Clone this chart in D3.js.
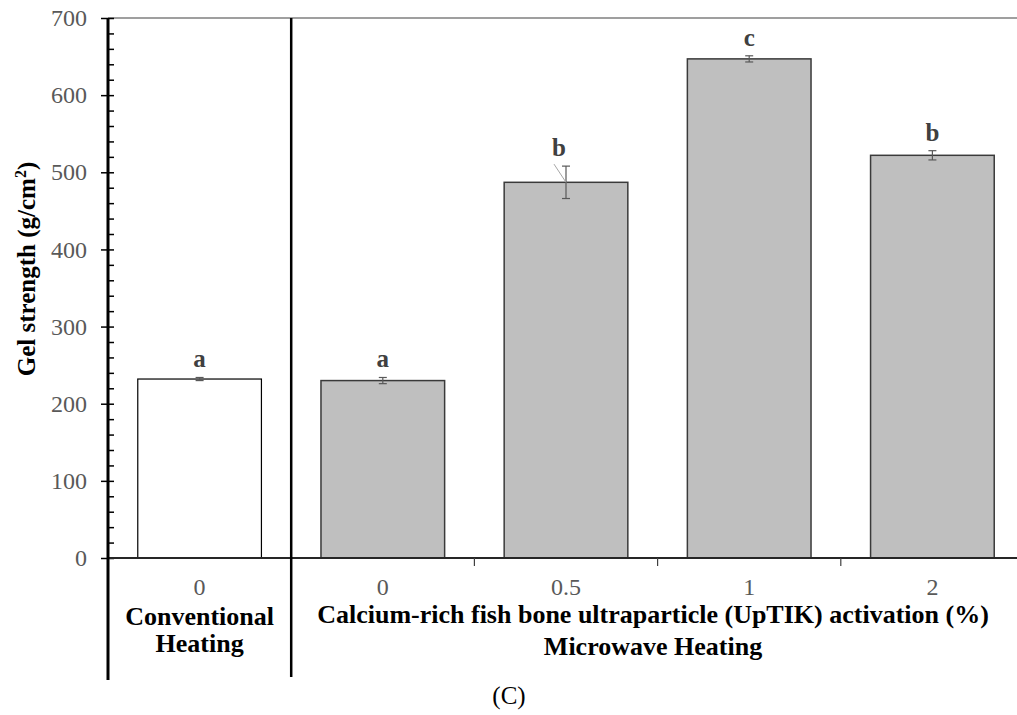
<!DOCTYPE html>
<html>
<head>
  <meta charset="utf-8">
  <title>Gel strength</title>
  <script src="https://d3js.org/d3.v7.min.js"></script>
  <style>
    body { margin: 0; background: #fff; }
    text { font-family: "Liberation Serif", "Times New Roman", serif; }
  </style>
</head>
<body>
  <svg width="1017" height="715"></svg>
  <script>
    // data
    var categories = ["Conventional 0", "Microwave 0", "Microwave 0.5", "Microwave 1", "Microwave 2"];
    var tickLabels = ["0", "0", "0.5", "1", "2"];
    var means = [232, 230, 487, 647, 522];
    var errors = [2, 4, 21, 4, 6];
    var letters = ["a", "a", "b", "c", "b"];
    var yTicks = [0, 100, 200, 300, 400, 500, 600, 700];

    var svg = d3.select("svg");
    var mLeft = 108, mRight = 1024, mTop = 18, mBottom = 558;

    var x = d3.scaleBand().domain(categories).range([mLeft, mRight]).padding(0);
    var y = d3.scaleLinear().domain([0, 700]).range([mBottom, mTop]);
    var barW = x.bandwidth() * 0.675;

    // top frame line
    svg.append("line")
      .attr("x1", mLeft).attr("x2", mRight)
      .attr("y1", y(700)).attr("y2", y(700))
      .attr("stroke", "#404040").attr("stroke-width", 1.2);

    // bars
    svg.append("g").selectAll("rect")
      .data(categories)
      .enter().append("rect")
      .attr("x", function (d) { return x(d) + (x.bandwidth() - barW) / 2; })
      .attr("y", function (d, i) { return y(means[i]); })
      .attr("width", barW)
      .attr("height", function (d, i) { return y(0) - y(means[i]); })
      .attr("fill", function (d, i) { return i == 0 ? "#ffffff" : "#bfbfbf"; })
      .attr("stroke", function (d, i) { return i == 0 ? "#000" : "#3a3a3a"; })
      .attr("stroke-width", function (d, i) { return i == 0 ? 1.2 : 1.5; });

    // error bars
    var eb = svg.append("g").attr("stroke", "#595959").attr("stroke-width", 1.2);
    categories.forEach(function (d, i) {
      var cx = x(d) + x.bandwidth() / 2;
      var y1 = y(means[i] + errors[i]), y2 = y(means[i] - errors[i]);
      eb.append("line").attr("x1", cx).attr("x2", cx).attr("y1", y1).attr("y2", y2);
      eb.append("line").attr("x1", cx - 4).attr("x2", cx + 4).attr("y1", y1).attr("y2", y1);
      eb.append("line").attr("x1", cx - 4).attr("x2", cx + 4).attr("y1", y2).attr("y2", y2);
    });

    // significance letters (0.5 one is shifted left with a leader line)
    categories.forEach(function (d, i) {
      var cx = x(d) + x.bandwidth() / 2;
      var ty = y(means[i] + errors[i]) - 10;
      var dx = 0;
      if (i == 2) {
        dx = -7;
        svg.append("line")
          .attr("x1", cx - 12).attr("y1", ty + 8)
          .attr("x2", cx).attr("y2", y(means[i]))
          .attr("stroke", "#a6a6a6").attr("stroke-width", 1);
      }
      svg.append("text")
        .attr("x", cx + dx).attr("y", ty)
        .attr("text-anchor", "middle")
        .attr("font-size", 25).attr("font-weight", "bold")
        .attr("fill", "#404040")
        .text(letters[i]);
    });

    // y axis: major ticks left, minor ticks right
    var yAxis = svg.append("g")
      .attr("transform", "translate(" + mLeft + ",0)")
      .call(d3.axisLeft(y).tickValues(yTicks).tickSize(7).tickPadding(14));
    yAxis.select(".domain").remove();
    yAxis.selectAll("line").attr("stroke", "#000").attr("stroke-width", 1.5);
    yAxis.selectAll("text")
      .attr("font-size", 24).attr("fill", "#595959")
      .style("font-family", "'Liberation Serif', serif");

    var yMinor = svg.append("g")
      .attr("transform", "translate(" + mLeft + ",0)")
      .call(d3.axisRight(y).tickValues(d3.range(0, 701, 20)).tickSize(6).tickFormat(""));
    yMinor.select(".domain").remove();
    yMinor.selectAll("line").attr("stroke", "#000").attr("stroke-width", 1.5);

    // x axis line
    svg.append("line")
      .attr("x1", mLeft).attr("x2", mRight)
      .attr("y1", y(0)).attr("y2", y(0))
      .attr("stroke", "#262626").attr("stroke-width", 2);

    // x ticks at band boundaries inside the microwave group
    svg.append("g").selectAll("line")
      .data(categories.slice(2))
      .enter().append("line")
      .attr("x1", function (d) { return x(d); })
      .attr("x2", function (d) { return x(d); })
      .attr("y1", y(0)).attr("y2", y(0) + 8)
      .attr("stroke", "#404040").attr("stroke-width", 1.2);

    svg.append("g").selectAll("text")
      .data(categories)
      .enter().append("text")
      .attr("x", function (d) { return x(d) + x.bandwidth() / 2; })
      .attr("y", 595)
      .attr("text-anchor", "middle")
      .attr("font-size", 24).attr("fill", "#595959")
      .text(function (d, i) { return tickLabels[i]; });

    // thick y axis line and group divider
    var divX = x(categories[1]);
    svg.append("line")
      .attr("x1", mLeft).attr("x2", mLeft).attr("y1", mTop).attr("y2", 680)
      .attr("stroke", "#000").attr("stroke-width", 3);
    svg.append("line")
      .attr("x1", divX).attr("x2", divX).attr("y1", mTop).attr("y2", 677)
      .attr("stroke", "#000").attr("stroke-width", 2.5);

    // group labels
    var convX = x(categories[0]) + x.bandwidth() / 2;
    svg.append("text").attr("x", convX).attr("y", 625)
      .attr("text-anchor", "middle").attr("font-size", 26).attr("font-weight", "bold")
      .text("Conventional");
    svg.append("text").attr("x", convX).attr("y", 652)
      .attr("text-anchor", "middle").attr("font-size", 26).attr("font-weight", "bold")
      .text("Heating");

    var micX = 653;
    svg.append("text").attr("x", micX).attr("y", 623)
      .attr("text-anchor", "middle").attr("font-size", 26).attr("font-weight", "bold")
      .text("Calcium-rich fish bone ultraparticle (UpTIK) activation (%)");
    svg.append("text").attr("x", micX).attr("y", 655)
      .attr("text-anchor", "middle").attr("font-size", 26).attr("font-weight", "bold")
      .text("Microwave Heating");

    // y title
    svg.append("text")
      .attr("transform", "translate(35,269) rotate(-90)")
      .attr("text-anchor", "middle").attr("font-size", 25).attr("font-weight", "bold")
      .html("Gel strength (g/cm<tspan dy='-9' font-size='16'>2</tspan><tspan dy='9'>)</tspan>");

    // panel tag
    svg.append("text").attr("x", 509).attr("y", 704)
      .attr("text-anchor", "middle").attr("font-size", 25)
      .text("(C)");
  </script>
</body>
</html>
